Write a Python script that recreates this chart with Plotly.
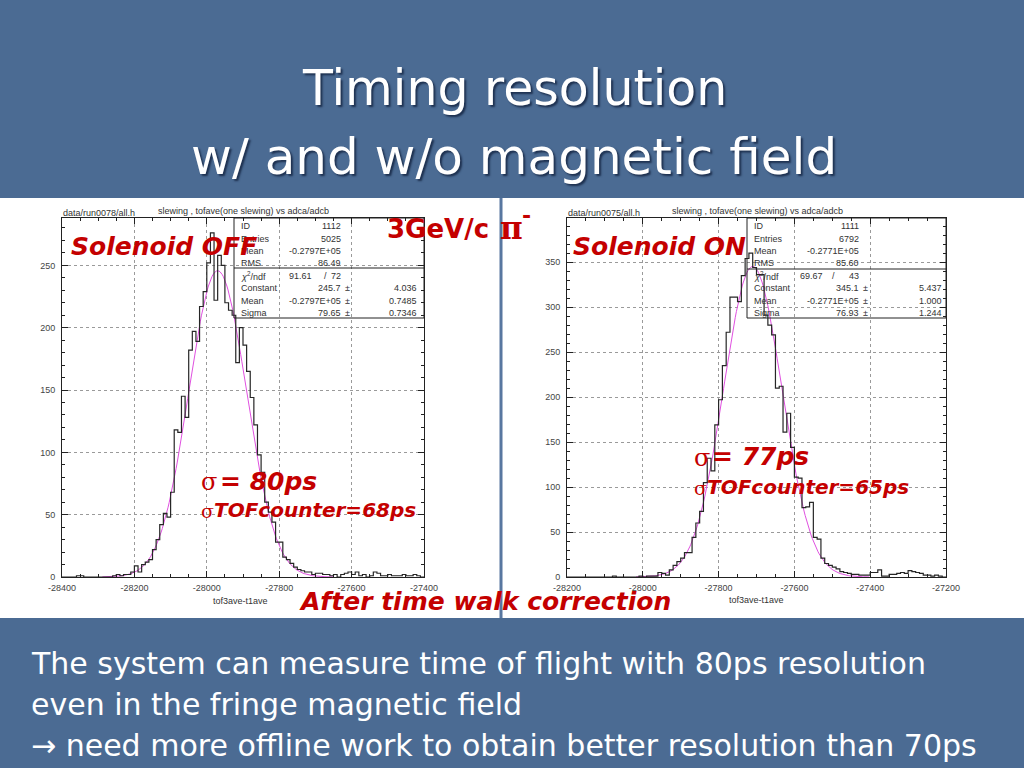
import math
import plotly.graph_objects as go

# ---------------- data ----------------
bin_width = 10
off_start = -28400
on_start = -28200

counts_off = [0, 0, 0, 0, 1, 1, 0, 0, 0, 0,
              0, 0, 0, 0, 1, 2, 1, 2, 2, 4,
              9, 4, 10, 12, 14, 22, 30, 42, 51, 48,
              68, 118, 116, 145, 128, 182, 197, 189, 217, 229,
              252, 276, 222, 258, 250, 220, 214, 210, 172, 200,
              186, 165, 144, 122, 98, 84, 60, 52, 44, 28,
              28, 16, 14, 11, 8, 6, 5, 4, 4, 2,
              3, 3, 2, 2, 1, 2, 0, 2, 3, 4,
              2, 4, 1, 2, 0, 1, 4, 3, 1, 1,
              2, 1, 1, 1, 2, 1, 1, 2, 1, 0]

counts_on = [0, 0, 0, 0, 0, 0, 0, 0, 0, 0,
             0, 0, 1, 0, 0, 0, 0, 0, 0, 1,
             0, 1, 1, 1, 5, 4, 2, 8, 13, 17,
             21, 27, 27, 44, 60, 73, 105, 132, 118, 169,
             197, 235, 272, 311, 311, 306, 335, 354, 360, 344,
             336, 336, 291, 280, 269, 210, 212, 161, 182, 144,
             111, 110, 77, 78, 83, 44, 42, 21, 15, 13,
             11, 9, 6, 5, 4, 3, 3, 2, 2, 2,
             5, 5, 8, 1, 1, 3, 3, 4, 5, 4,
             7, 6, 5, 4, 2, 2, 1, 2, 1, 0]

xticks_off = [-28400, -28200, -28000, -27800, -27600, -27400]
xticks_on = [-28200, -28000, -27800, -27600, -27400, -27200]

# fit parameters shown in the stats boxes
fit_off = dict(constant=245.7, mean=-27970.0, sigma=79.65)
fit_on = dict(constant=345.1, mean=-27710.0, sigma=76.93)

stats_off = [("ID", "1112"), ("Entries", "5025"), ("Mean", "-0.2797E+05"), ("RMS", "86.49")]
fitrows_off = [("Constant", "245.7", "4.036"), ("Mean", "-0.2797E+05", "0.7485"), ("Sigma", "79.65", "0.7346")]
chi_off = ("91.61", "72")
stats_on = [("ID", "1111"), ("Entries", "6792"), ("Mean", "-0.2771E+05"), ("RMS", "85.60")]
fitrows_on = [("Constant", "345.1", "5.437"), ("Mean", "-0.2771E+05", "1.000"), ("Sigma", "76.93", "1.244")]
chi_on = ("69.67", "43")

bottom_lines = ["The system can measure time of flight with 80ps resolution",
                "even in the fringe magnetic field",
                "\u2192 need more offline work to obtain better resolution than 70ps"]

W, H = 1024, 768
def px(x):
    return x / W
def py(y):
    return 1 - y / H

BG = "#4b6b93"
RED = "#c40000"
GRAYTXT = "#333333"

fig = go.Figure()

def step_trace(start, counts, xa, ya):
    xs = [start + i * bin_width for i in range(len(counts) + 1)]
    ys = list(counts) + [counts[-1]]
    return go.Scatter(x=xs, y=ys, mode="lines", line=dict(color="#262626", width=1.2, shape="hv"),
                      xaxis=xa, yaxis=ya, hoverinfo="skip", showlegend=False)

def fit_trace(p, xa, ya):
    lo = p["mean"] - 4 * p["sigma"]
    n = 200
    xs = [lo + 8 * p["sigma"] * k / n for k in range(n + 1)]
    ys = [p["constant"] * math.exp(-0.5 * ((x - p["mean"]) / p["sigma"]) ** 2) for x in xs]
    return go.Scatter(x=xs, y=ys, mode="lines", line=dict(color="#e050e0", width=1),
                      xaxis=xa, yaxis=ya, hoverinfo="skip", showlegend=False)

fig.add_trace(fit_trace(fit_off, "x", "y"))
fig.add_trace(step_trace(off_start, counts_off, "x", "y"))
fig.add_trace(fit_trace(fit_on, "x2", "y2"))
fig.add_trace(step_trace(on_start, counts_on, "x2", "y2"))

tickfont = dict(family="Liberation Sans", size=9, color="#444444")
def xax(dom, rng, anchor, ticks):
    return dict(domain=dom, range=rng, tickmode="array", tickvals=ticks, ticktext=[str(t) for t in ticks],
                ticks="inside", ticklen=6, anchor=anchor,
                tickcolor="#222", showline=True, linecolor="#222", linewidth=1, mirror="allticks",
                showgrid=True, gridcolor="#9a9a9a", griddash="dot", gridwidth=1, zeroline=False,
                tickfont=tickfont, ticklabelstandoff=2, automargin=False,
                minor=dict(tickmode="linear", tick0=rng[0], dtick=50, ticks="inside", ticklen=3,
                           tickcolor="#222", showgrid=False),
                fixedrange=True)
def yax(dom, rng, anchor):
    return dict(domain=dom, range=rng, dtick=50, ticks="inside", ticklen=6, anchor=anchor,
                tickcolor="#222", showline=True, linecolor="#222", linewidth=1, mirror="allticks",
                showgrid=True, gridcolor="#9a9a9a", griddash="dot", gridwidth=1, zeroline=False,
                tickfont=tickfont, ticklabelstandoff=4, automargin=False,
                minor=dict(dtick=10, ticks="inside", ticklen=3, tickcolor="#222", showgrid=False),
                fixedrange=True)

ydom = [py(577), py(218)]
fig.update_layout(
    width=W, height=H, autosize=False, margin=dict(l=0, r=0, t=0, b=0, pad=0, autoexpand=False),
    paper_bgcolor=BG, plot_bgcolor="white",
    xaxis=xax([px(62), px(424)], [-28400, -27400], "y", xticks_off),
    yaxis=yax(ydom, [0, 288], "x"),
    xaxis2=xax([px(567), px(946)], [-28200, -27200], "y2", xticks_on),
    yaxis2=yax(ydom, [0, 399], "x2"),
    showlegend=False,
)

shapes = []
# white band
shapes.append(dict(type="rect", xref="paper", yref="paper", x0=0, x1=1, y0=py(618), y1=py(198),
                   fillcolor="white", line=dict(width=0), layer="below"))
# vertical divider
shapes.append(dict(type="line", xref="paper", yref="paper", x0=px(501), x1=px(501), y0=py(618), y1=py(198),
                   line=dict(color="#5877a0", width=3), layer="above"))
# stats boxes
def stats_box(x0, x1, ydiv):
    shapes.append(dict(type="rect", xref="paper", yref="paper", x0=px(x0), x1=px(x1), y0=py(318), y1=py(218),
                       line=dict(color="#222", width=1), fillcolor="rgba(0,0,0,0)", layer="above"))
    shapes.append(dict(type="line", xref="paper", yref="paper", x0=px(x0), x1=px(x1), y0=py(ydiv), y1=py(ydiv),
                       line=dict(color="#222", width=1), layer="above"))
stats_box(234, 424, 268)
stats_box(747, 946, 269)
fig.update_layout(shapes=shapes)

anns = []
def ann(x, y, text, size, color, family="Liberation Sans", xanchor="left", yanchor="middle",
        weight="normal", style="normal", shadow="none"):
    anns.append(dict(x=px(x), y=py(y), xref="paper", yref="paper", text=text, showarrow=False,
                     xanchor=xanchor, yanchor=yanchor, borderpad=0,
                     font=dict(size=size, color=color, family=family, weight=weight, style=style, shadow=shadow)))

# title
tshadow = "2px 2px 2px #1e3150"
ann(514, 89, "Timing resolution", 49, "white", family="DejaVu Sans", xanchor="center", shadow=tshadow)
ann(514, 157, "w/ and w/o magnetic field", 50, "white", family="DejaVu Sans", xanchor="center", shadow=tshadow)

# headers
ann(62, 213, "data/run0078/all.h", 9, GRAYTXT)
ann(243, 211, "slewing , tofave(one slewing) vs adca/adcb", 9, GRAYTXT, xanchor="center")
ann(567, 213, "data/run0075/all.h", 9, GRAYTXT)
ann(757, 211, "slewing , tofave(one slewing) vs adca/adcb", 9, GRAYTXT, xanchor="center")
ann(240, 601, "tof3ave-t1ave", 9, GRAYTXT, xanchor="center")
ann(756, 600, "tof3ave-t1ave", 9, GRAYTXT, xanchor="center")

rows_y = [226, 238.5, 251, 263.5]
fit_y = [288, 300.5, 313]
def stats_text(lx, vx, pmx, ex, chix, slashx, stats, fitrows, chi):
    for (lab, val), yy in zip(stats, rows_y):
        ann(lx, yy, lab, 9, GRAYTXT)
        ann(vx, yy, val, 9, GRAYTXT, xanchor="right")
    ann(lx, 276, "<i>\u03c7</i><sup>2</sup>/ndf", 9, GRAYTXT)
    ann(chix, 276, chi[0], 9, GRAYTXT)
    ann(slashx, 276, "/", 9, GRAYTXT)
    ann(vx, 276, chi[1], 9, GRAYTXT, xanchor="right")
    for (lab, val, err), yy in zip(fitrows, fit_y):
        ann(lx, yy, lab, 9, GRAYTXT)
        ann(vx, yy, val, 9, GRAYTXT, xanchor="right")
        ann(pmx, yy, "\u00b1", 9, GRAYTXT)
        ann(ex, yy, err, 9, GRAYTXT, xanchor="right")
stats_text(240, 342, 344, 418, 288, 323, stats_off, fitrows_off, chi_off)
stats_text(753, 860, 862, 943, 799, 831, stats_on, fitrows_on, chi_on)

# red annotations
ann(70, 246, "Solenoid OFF", 25, RED, family="DejaVu Sans", weight="bold", style="italic")
ann(572, 246, "Solenoid ON", 25, RED, family="DejaVu Sans", weight="bold", style="italic")
ann(386, 229, "3GeV/c", 26, RED, family="DejaVu Sans", weight="bold")
ann(499, 228, "\u03c0", 31, RED, family="DejaVu Serif", weight="bold")
ann(521, 215, "-", 22, RED, family="DejaVu Sans", weight="bold")
ann(200, 482, "\u03c3", 24, RED, family="DejaVu Serif")
ann(219, 481, "= 80ps", 25, RED, family="DejaVu Sans", weight="bold", style="italic")
ann(200, 511, "\u03c3", 19, RED, family="DejaVu Serif")
ann(213, 510, "TOFcounter=68ps", 20, RED, family="DejaVu Sans", weight="bold", style="italic")
ann(693, 458, "\u03c3", 24, RED, family="DejaVu Serif")
ann(711, 456, "= 77ps", 25, RED, family="DejaVu Sans", weight="bold", style="italic")
ann(693, 488, "\u03c3", 19, RED, family="DejaVu Serif")
ann(706, 487, "TOFcounter=65ps", 20, RED, family="DejaVu Sans", weight="bold", style="italic")
ann(485, 601, "After time walk correction", 25, RED, family="DejaVu Sans", weight="bold", style="italic",
    xanchor="center")

# bottom text
for txt, yy in zip(bottom_lines, [663, 704, 745]):
    ann(30, yy, txt, 30, "white", family="DejaVu Sans")

fig.update_layout(annotations=anns)
fig.write_html("out.html", config={"responsive": False, "displayModeBar": False},
               post_script="document.body.style.margin='0';document.body.style.overflow='hidden';")
